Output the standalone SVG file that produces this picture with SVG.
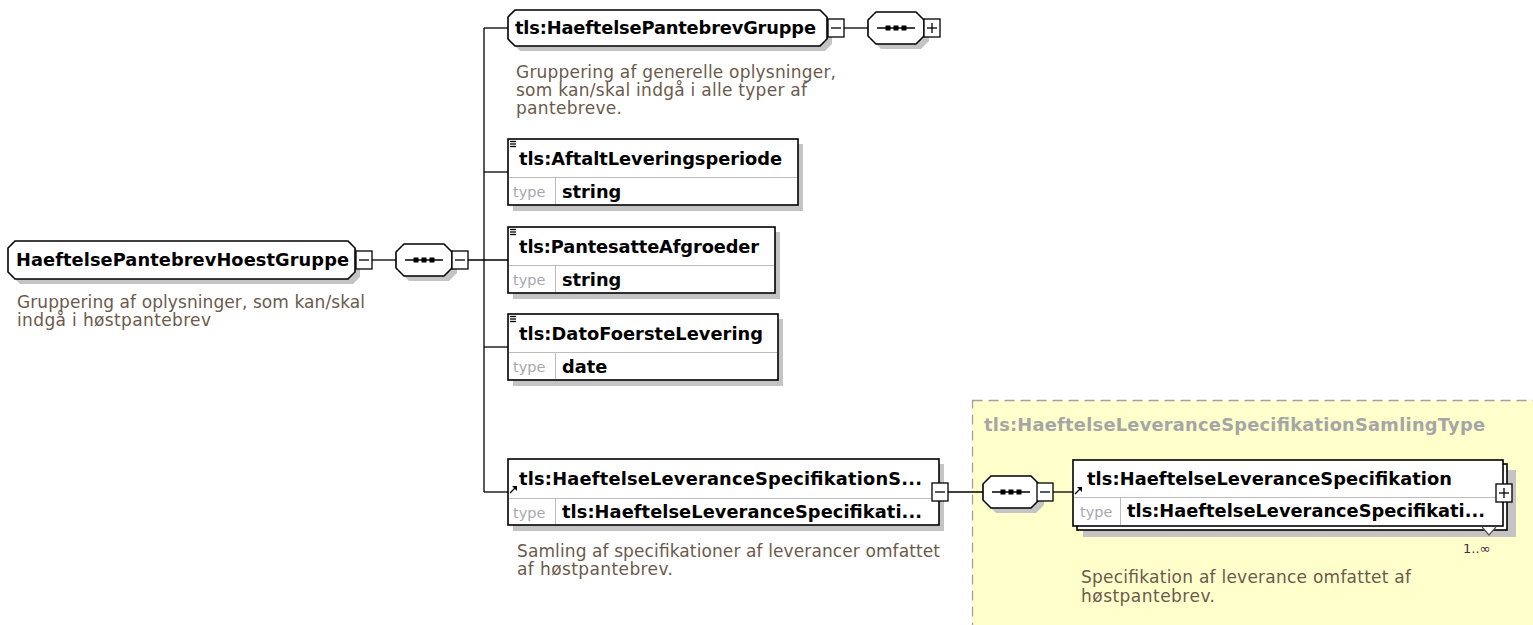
<svg xmlns="http://www.w3.org/2000/svg" width="1533" height="625" viewBox="0 0 1533 625">
<style>
.box{fill:#fff;stroke:#000;stroke-width:1.6}
.sh{fill:#c4c4c4}
.con{stroke:#000;stroke-width:1.3;fill:none}
.sep{stroke:#bcbcbc;stroke-width:1}
.pm{fill:#fff;stroke:#000;stroke-width:1.3}
.pl{stroke:#000;stroke-width:1.3}
.t{font-family:"DejaVu Sans","Liberation Sans",sans-serif;font-weight:bold;font-size:17.8px;fill:#000}
.d{font-family:"DejaVu Sans","Liberation Sans",sans-serif;font-size:17px;fill:#6b5a4c}
.ty{font-family:"DejaVu Sans","Liberation Sans",sans-serif;font-size:14.5px;fill:#a8a8b0}
.yt{font-family:"DejaVu Sans","Liberation Sans",sans-serif;font-weight:bold;font-size:17.8px;fill:#a6a6a6}
.dot{fill:#000}
</style>
<defs>
<g id="seq">
<path class="sh" d="M13,5 H53 L61,13 V29 L53,37 H13 L5,29 V13 Z"/>
<path class="box" d="M8,0 H48 L56,8 V24 L48,32 H8 L0,24 V8 Z"/>
<line class="pl" x1="9" y1="16" x2="47" y2="16" stroke-width="1.6"/>
<rect class="dot" x="17.5" y="13.5" width="5" height="5"/>
<rect class="dot" x="25.5" y="13.5" width="5" height="5"/>
<rect class="dot" x="33.5" y="13.5" width="5" height="5"/>
</g>
<g id="minus"><rect class="pm" x="0" y="0" width="16" height="18"/><line class="pl" x1="3" y1="9" x2="13" y2="9"/></g>
<g id="plus"><rect class="pm" x="0" y="0" width="16" height="18"/><line class="pl" x1="3" y1="9" x2="13" y2="9"/><line class="pl" x1="8" y1="4" x2="8" y2="14"/></g>
<g id="lines"><line class="pl" x1="0" y1="0.5" x2="6" y2="0.5"/><line class="pl" x1="0" y1="3" x2="6" y2="3"/><line class="pl" x1="0" y1="5.5" x2="6" y2="5.5"/></g>
<g id="ref"><line class="pl" x1="0" y1="7" x2="5" y2="2" stroke-width="1.6"/><path d="M2,0 H7 V5 Z" fill="#000"/></g>
</defs>

<rect x="972.5" y="400.5" width="600" height="300" fill="#ffffcc" stroke="#a0a0a0" stroke-width="1.3" stroke-dasharray="10,6"/>
<text class="yt" x="984" y="431" textLength="501">tls:HaeftelseLeveranceSpecifikationSamlingType</text>

<g id="connectors">
<line class="con" x1="372" y1="260" x2="396" y2="260"/>
<line class="con" x1="468" y1="260" x2="508" y2="260"/>
<line class="con" x1="484" y1="28" x2="484" y2="492"/>
<line class="con" x1="484" y1="28" x2="508" y2="28"/>
<line class="con" x1="484" y1="172" x2="508" y2="172"/>
<line class="con" x1="484" y1="347" x2="508" y2="347"/>
<line class="con" x1="484" y1="492" x2="508" y2="492"/>
<line class="con" x1="844" y1="28" x2="868" y2="28"/>
<line class="con" x1="948" y1="492" x2="983" y2="492"/>
<line class="con" x1="1053" y1="492" x2="1073" y2="492"/>
</g>

<g id="root">
<path class="sh" d="M20,246 H353 L360,253 V277 L353,284 H20 L13,277 V253 Z"/>
<path class="box" d="M15,241 H348 L355,248 V272 L348,279 H15 L8,272 V248 Z"/>
<text class="t" x="16" y="266" textLength="333">HaeftelsePantebrevHoestGruppe</text>
<use href="#minus" x="356" y="251"/>
<text class="d" x="17" y="308" textLength="348">Gruppering af oplysninger, som kan/skal</text>
<text class="d" x="17" y="326" textLength="194">indgå i høstpantebrev</text>
</g>

<g id="seq1">
<use href="#seq" x="396" y="244"/>
<use href="#minus" x="452" y="251"/>
</g>

<g id="haeftelsePantebrevGruppe">
<path class="sh" d="M520,15 H825 L832,22 V44 L825,51 H520 L513,44 V22 Z"/>
<path class="box" d="M515,10 H820 L827,17 V39 L820,46 H515 L508,39 V17 Z"/>
<text class="t" x="515" y="34" textLength="301">tls:HaeftelsePantebrevGruppe</text>
<use href="#minus" x="828" y="19"/>
<text class="d" x="516" y="78" textLength="320">Gruppering af generelle oplysninger,</text>
<text class="d" x="516" y="96" textLength="291">som kan/skal indgå i alle typer af</text>
<text class="d" x="516" y="114" textLength="106">pantebreve.</text>
</g>

<g id="seq2">
<use href="#seq" x="868" y="12"/>
<use href="#plus" x="924" y="19"/>
</g>

<g id="aftaltLeveringsperiode">
<rect class="sh" x="513" y="144" width="290" height="67"/>
<rect class="box" x="508" y="139" width="290" height="66"/>
<line class="sep" x1="509" y1="177.5" x2="797" y2="177.5"/>
<line class="sep" x1="555.5" y1="178" x2="555.5" y2="204"/>
<use href="#lines" x="510" y="141"/>
<text class="t" x="519" y="165" textLength="263">tls:AftaltLeveringsperiode</text>
<text class="ty" x="513" y="197">type</text>
<text class="t" x="562" y="198">string</text>
</g>

<g id="pantesatteAfgroeder">
<rect class="sh" x="513" y="232" width="267" height="67"/>
<rect class="box" x="508" y="227" width="267" height="66"/>
<line class="sep" x1="509" y1="265.5" x2="774" y2="265.5"/>
<line class="sep" x1="555.5" y1="266" x2="555.5" y2="292"/>
<use href="#lines" x="510" y="229"/>
<text class="t" x="519" y="253" textLength="240">tls:PantesatteAfgroeder</text>
<text class="ty" x="513" y="285">type</text>
<text class="t" x="562" y="286">string</text>
</g>

<g id="datoFoersteLevering">
<rect class="sh" x="513" y="319" width="270" height="67"/>
<rect class="box" x="508" y="314" width="270" height="66"/>
<line class="sep" x1="509" y1="352.5" x2="777" y2="352.5"/>
<line class="sep" x1="555.5" y1="353" x2="555.5" y2="379"/>
<use href="#lines" x="510" y="316"/>
<text class="t" x="519" y="340" textLength="244">tls:DatoFoersteLevering</text>
<text class="ty" x="513" y="372">type</text>
<text class="t" x="562" y="373">date</text>
</g>

<g id="leveranceSpecifikationSamling">
<rect class="sh" x="513" y="464" width="431" height="67"/>
<rect class="box" x="508" y="459" width="431" height="66"/>
<line class="sep" x1="509" y1="498.5" x2="938" y2="498.5"/>
<line class="sep" x1="555.5" y1="499" x2="555.5" y2="524"/>
<use href="#ref" x="510" y="486"/>
<text class="t" x="519" y="485" textLength="403">tls:HaeftelseLeveranceSpecifikationS...</text>
<text class="ty" x="513" y="518">type</text>
<text class="t" x="562" y="518" textLength="360">tls:HaeftelseLeveranceSpecifikati...</text>
<use href="#minus" x="932" y="483"/>
<text class="d" x="517" y="557" textLength="423">Samling af specifikationer af leverancer omfattet</text>
<text class="d" x="517" y="575" textLength="156">af høstpantebrev.</text>
</g>

<g id="seq3">
<use href="#seq" x="983" y="476"/>
<use href="#minus" x="1037" y="483"/>
</g>

<g id="leveranceSpecifikation">
<rect class="sh" x="1083" y="470" width="433" height="67"/>
<rect class="box" x="1077" y="464" width="430" height="66"/>
<rect class="box" x="1073" y="460" width="430" height="66"/>
<line class="sep" x1="1074" y1="497.5" x2="1502" y2="497.5"/>
<line class="sep" x1="1120.5" y1="498" x2="1120.5" y2="525"/>
<use href="#ref" x="1075" y="487"/>
<text class="t" x="1087" y="485" textLength="365">tls:HaeftelseLeveranceSpecifikation</text>
<text class="ty" x="1080" y="517">type</text>
<text class="t" x="1127" y="517" textLength="358">tls:HaeftelseLeveranceSpecifikati...</text>
<use href="#plus" x="1496" y="484"/>
<polyline points="1482,527 1489,535 1496,527" fill="#fff" stroke="#555" stroke-width="1.2"/>
<text x="1463" y="553" font-family="DejaVu Sans, sans-serif" font-size="13px" fill="#4a2d4a">1..∞</text>
<text class="d" x="1081" y="583" textLength="330">Specifikation af leverance omfattet af</text>
<text class="d" x="1081" y="602" textLength="134">høstpantebrev.</text>
</g>
</svg>
